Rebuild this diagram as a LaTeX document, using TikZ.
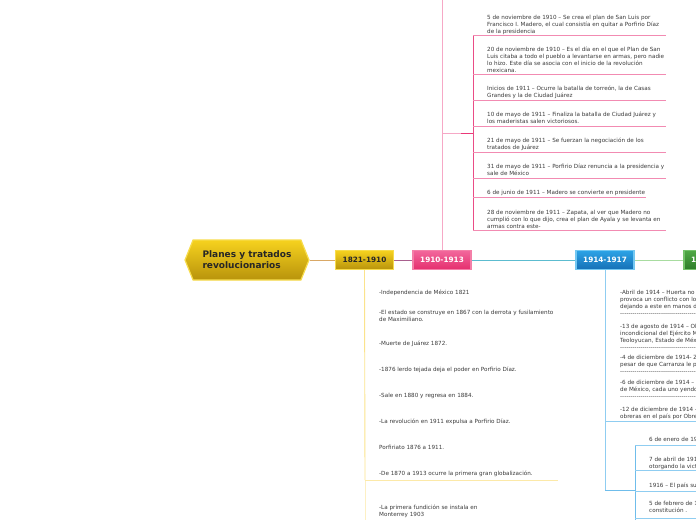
\documentclass[tikz,border=0pt]{standalone}
\usepackage{fontspec}
\setmainfont{DejaVu Sans}
\usetikzlibrary{shapes.symbols}
\definecolor{leaftext}{HTML}{3A3A3A}
\definecolor{goldtop}{HTML}{F6D21E}
\definecolor{goldbot}{HTML}{B8930C}
\definecolor{goldrim}{HTML}{F7DC4C}
\definecolor{rosetop}{HTML}{F2679C}
\definecolor{rosebot}{HTML}{E52F6E}
\definecolor{roserim}{HTML}{F47FA8}
\definecolor{skytop}{HTML}{2CA3E6}
\definecolor{skybot}{HTML}{1670B6}
\definecolor{skyrim}{HTML}{74C8F2}
\definecolor{greentop}{HTML}{50A846}
\definecolor{greenbot}{HTML}{2E7D2A}
\definecolor{greenrim}{HTML}{74C26A}
\newcommand{\hyphenrow}{\foreach \k in {1,...,45}{-}}
\tikzset{
  period/.style={draw, line width=1.2pt, minimum width=58pt, minimum height=19pt,
    inner sep=0pt, font=\fontsize{7.3}{8}\selectfont\bfseries},
  item/.style={anchor=north west, inner sep=0pt, align=left, text=leaftext,
    font=\fontsize{5.65}{7}\selectfont},
  topicline/.style={line width=0.9pt},
}
\begin{document}
\begin{tikzpicture}[x=1pt,y=-1pt]
    \useasboundingbox (0,0) rectangle (696,520);
    \clip (0,0) rectangle (696,520);
    % main topic and periods
    \node[signal, signal to=west and east, signal pointer angle=136, draw=goldrim,
      line width=1.2pt, top color=goldtop, bottom color=goldbot, minimum width=124pt,
      minimum height=40pt, inner sep=0pt, align=left, text=black!85,
      font=\fontsize{9}{11}\selectfont\bfseries] (root) at (247,260) {Planes y tratados\\revolucionarios};
    \node[period, draw=goldrim, top color=goldtop, bottom color=goldbot, text=black!85] (p1) at (364.5,260) {1821-1910};
    \node[period, draw=roserim, top color=rosetop, bottom color=rosebot, text=white] (p2) at (442,260) {1910-1913};
    \node[period, draw=skyrim, top color=skytop, bottom color=skybot, text=white] (p3) at (605,260) {1914-1917};
    \node[period, draw=greenrim, top color=greentop, bottom color=greenbot, text=white] (p4) at (713,260) {1917-1920};
    \draw[topicline, color={rgb,255:red,217;green,168;blue,102}] (root.east) -- (p1.west);
    \draw[topicline, color={rgb,255:red,168;green,96;blue,142}] (p1.east) -- (p2.west);
    \draw[topicline, color={rgb,255:red,92;green,188;blue,208}] (p2.east) -- (p3.west);
    \draw[topicline, color={rgb,255:red,168;green,220;blue,160}] (p3.east) -- (p4.west);

    % 1910-1913
    \coordinate (pinktop) at (442,0);
    \coordinate (pinkfork) at (442,133);
    \coordinate (pinkbend) at (461,133);
    \coordinate (pinkspinetop) at (473,35);
    \coordinate (pinkspinebot) at (473,230);
    \draw[topicline, color={rgb,255:red,246;green,168;blue,198}] (p2.north) -- (pinktop);
    \draw[topicline, color={rgb,255:red,246;green,168;blue,198}] (pinkfork) -- (pinkbend);
    \draw[topicline, color={rgb,255:red,234;green,56;blue,120}] (pinkbend) -- (pinkspinetop |- pinkfork);
    \draw[topicline, color={rgb,255:red,234;green,76;blue,134}] (pinkspinetop) -- (pinkspinebot);
    \foreach \c/\b/\e/\t [count=\i] in {
      17/35/666/{5 de noviembre de 1910 – Se crea el plan de San Luis por\\Francisco I. Madero, el cual consistía en quitar a Porfirio Díaz\\de la presidencia},
      49/74/666/{20 de noviembre de 1910 – Es el día en el que el Plan de San\\Luis citaba a todo el pueblo a levantarse en armas, pero nadie\\lo hizo. Este día se asocia con el inicio de la revolución\\mexicana.},
      88/100/666/{Inicios de 1911 – Ocurre la batalla de torreón, la de Casas\\Grandes y la de Ciudad Juárez},
      114/126/666/{10 de mayo de 1911 – Finaliza la batalla de Ciudad Juárez y\\los maderistas salen victoriosos.},
      140/152/666/{21 de mayo de 1911 – Se fuerzan la negociación de los\\tratados de Juárez},
      166/178/666/{31 de mayo de 1911 – Porfirio Díaz renuncia a la presidencia y\\sale de México},
      192/197/646/{6 de junio de 1911 – Madero se convierte en presidente},
      212/230/666/{28 de noviembre de 1911 – Zapata, al ver que Madero no\\cumplió con lo que dijo, crea el plan de Ayala y se levanta en\\armas contra este-}}
    {
      \node[item] (pink\i) at (487,\c-2.3) {\t};
      \draw[topicline, color={rgb,255:red,242;green,139;blue,178}] (473,\b) -- (\e,\b);
    }

    % 1821-1910
    \coordinate (goldfork) at (365,480);
    \coordinate (goldend) at (365,520);
    \draw[topicline, color={rgb,255:red,251;green,227;blue,140}] (p1.south) -- (goldfork);
    \draw[topicline, color={rgb,255:red,253;green,240;blue,196}] (goldfork) -- (goldend);
    \draw[topicline, color={rgb,255:red,252;green,233;blue,168}] (goldfork) -- (558,480);
    \foreach \c/\t [count=\i] in {
      292/{-Independencia de México 1821},
      312/{-El estado se construye en 1867 con la derrota y fusilamiento\\de Maximiliano.},
      343/{-Muerte de Juárez 1872.},
      369/{-1876 lerdo tejada deja el poder en Porfirio Díaz.},
      395/{-Sale en 1880 y regresa en 1884.},
      421/{-La revolución en 1911 expulsa a Porfirio Díaz.},
      447/{Porfiriato 1876 a 1911.},
      473/{-De 1870 a 1913 ocurre la primera gran globalización.},
      507/{-La primera fundición se instala en\\Monterrey 1903}}
    {
      \node[item] (gold\i) at (379,\c-2.3) {\t};
    }

    % 1914-1917
    \coordinate (bluefork) at (605,490);
    \coordinate (bluespinetop) at (635,445);
    \coordinate (bluespinebot) at (635,520);
    \draw[topicline, color={rgb,255:red,143;green,205;blue,241}] (p3.south) -- (bluefork);
    \draw[topicline, color={rgb,255:red,143;green,205;blue,241}] (605,421) -- (700,421);
    \draw[topicline, color={rgb,255:red,111;green,189;blue,235}] (bluefork) -- (bluespinetop |- bluefork);
    \draw[topicline, color={rgb,255:red,111;green,189;blue,235}] (bluespinetop) -- (bluespinebot);
    \foreach \c/\t [count=\i] in {
      292/{-Abril de 1914 – Huerta no\\provoca un conflicto con los\\dejando a este en manos de\\\hyphenrow},
      326/{-13 de agosto de 1914 – Ob\\incondicional del Ejército Me\\Teoloyucan, Estado de Méxi\\\hyphenrow},
      357/{-4 de diciembre de 1914- Z\\pesar de que Carranza le pi\\\hyphenrow},
      382/{-6 de diciembre de 1914 – \\de México, cada uno yendo\\\hyphenrow},
      409/{-12 de diciembre de 1914 –\\obreras en el país por Obre}}
    {
      \node[item] (sky\i) at (620,\c-2.3) {\t};
    }
    \foreach \c/\b/\t [count=\i] in {
      439/445/{6 de enero de 1915},
      459/470/{7 de abril de 1915\\otorgando la victoria},
      485/491/{1916 – El país sufre},
      503/518/{5 de febrero de 1917\\constitución .}}
    {
      \node[item] (skysub\i) at (649,\c-2.3) {\t};
      \draw[topicline, color={rgb,255:red,143;green,205;blue,241}] (635,\b) -- (700,\b);
    }
\end{tikzpicture}
\end{document}
